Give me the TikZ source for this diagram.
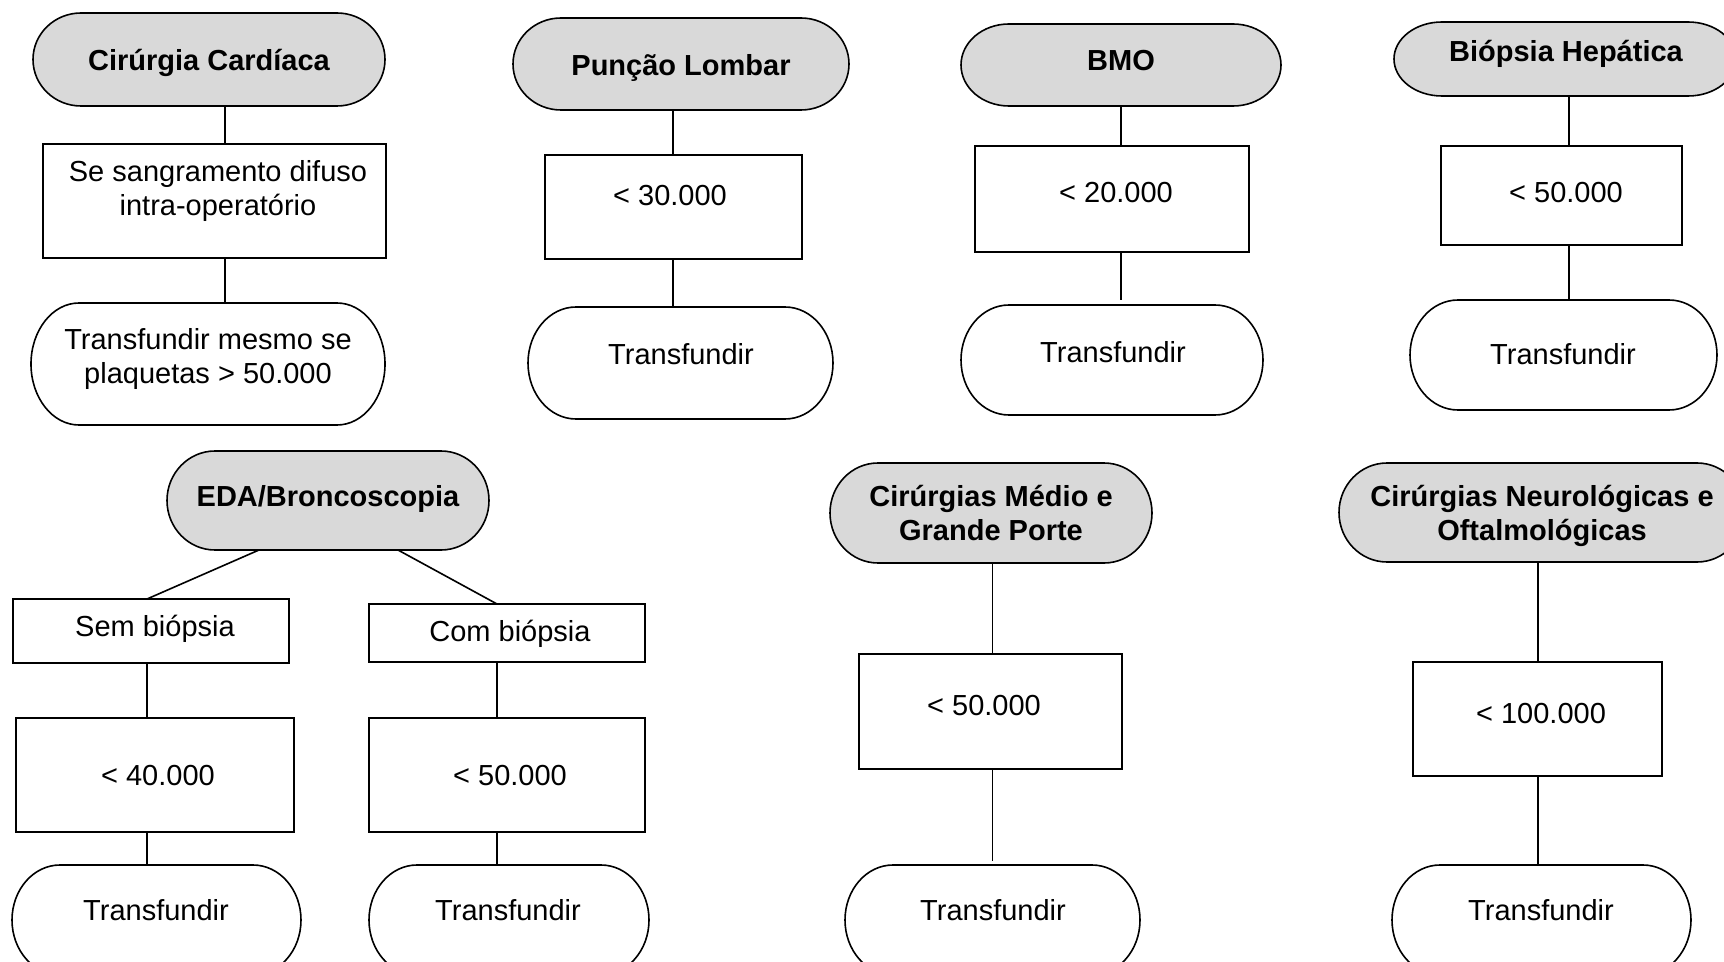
\documentclass[tikz,border=0pt]{standalone}
\usepackage{fontspec}
\setmainfont{Liberation Sans}
\usetikzlibrary{calc}
\definecolor{tgray}{HTML}{D9D9D9}
\newcommand\fs{\fontsize{14.5}{17}\selectfont}
\newcommand\termdraw[2]{%
  \draw[ln, fill=#2] let \p1=(#1.north west), \p2=(#1.south east) in
    (\x1+24pt,\y1) -- (\x2-24pt,\y1)
    arc[start angle=90, end angle=-90, x radius=24pt, y radius={(\y1-\y2)/2}]
    -- (\x1+24pt,\y2)
    arc[start angle=270, end angle=90, x radius=24pt, y radius={(\y1-\y2)/2}]
    -- cycle;}
\begin{document}
\begin{tikzpicture}[x=0.5pt,y=-0.5pt,
  ln/.style={line width=0.8pt, draw=black},
  sz/.style 2 args={minimum width={#1*0.5pt}, minimum height={#2*0.5pt}},
  bx/.style={ln, rectangle, inner sep=0pt, outer sep=0pt},
  tm/.style={rectangle, inner sep=0pt, outer sep=0pt},
  txt/.style={font=\fs, align=center, inner sep=0pt},
  btxt/.style={font=\fs\bfseries, align=center, inner sep=0pt}]
\useasboundingbox (0,0) rectangle (1724,962);
\clip (0,0) rectangle (1724,962);

% x positions of vertical connectors
\coordinate (c1) at (225,0);
\coordinate (c2) at (673,0);
\coordinate (c3) at (1121,0);
\coordinate (c4) at (1569,0);
\coordinate (d1) at (259,0);
\coordinate (d2) at (147,0);
\coordinate (d3) at (398,0);
\coordinate (d4) at (497,0);
\coordinate (c7) at (992.5,0);
\coordinate (c9) at (1538,0);

% ---------- Cirurgia Cardiaca ----------
\node[tm,sz={352}{93}] (T1) at (209,59.5) {};
\termdraw{T1}{tgray}
\node[btxt] (T1t) at (209,62.5) {Cirúrgia Cardíaca};
\node[bx,sz={343}{114}] (B1) at (214.5,201) {};
\node[txt] (B1t) at (218,191) {Se sangramento difuso\\intra-operatório};
\node[tm,sz={354}{122}] (E1) at (208,364) {};
\termdraw{E1}{white}
\node[txt] (E1t) at (208,359) {Transfundir mesmo se\\plaquetas > 50.000};
\draw[ln] (T1.south -| c1) -- (B1.north -| c1);
\draw[ln] (B1.south -| c1) -- (E1.north -| c1);

% ---------- Puncao Lombar ----------
\node[tm,sz={336}{92}] (T2) at (681,64) {};
\termdraw{T2}{tgray}
\node[btxt] (T2t) at (681,68) {Punção Lombar};
\node[bx,sz={257}{104}] (B2) at (673.5,207) {};
\node[txt] (B2t) at (670,196) {< 30.000};
\node[tm,sz={305}{112}] (E2) at (680.5,363) {};
\termdraw{E2}{white}
\node[txt] (E2t) at (681,354) {Transfundir};
\draw[ln] (T2.south -| c2) -- (B2.north -| c2);
\draw[ln] (B2.south -| c2) -- (E2.north -| c2);

% ---------- BMO ----------
\node[tm,sz={320}{82}] (T3) at (1121,65) {};
\termdraw{T3}{tgray}
\node[btxt] (T3t) at (1121,61) {BMO};
\node[bx,sz={274}{106}] (B3) at (1112,199) {};
\node[txt] (B3t) at (1116,193) {< 20.000};
\node[tm,sz={302}{110}] (E3) at (1112,360) {};
\termdraw{E3}{white}
\node[txt] (E3t) at (1113,352) {Transfundir};
\draw[ln] (T3.south -| c3) -- (B3.north -| c3);
\draw[ln, shorten >=2.5pt] (B3.south -| c3) -- (E3.north -| c3);

% ---------- Biopsia Hepatica ----------
\node[tm,sz={342}{74}] (T4) at (1565,59) {};
\termdraw{T4}{tgray}
\node[btxt] (T4t) at (1566,53.5) {Biópsia Hepática};
\node[bx,sz={241}{99}] (B4) at (1561.5,195.5) {};
\node[txt] (B4t) at (1566,193) {< 50.000};
\node[tm,sz={307}{110}] (E4) at (1563.5,355) {};
\termdraw{E4}{white}
\node[txt] (E4t) at (1563,354) {Transfundir};
\draw[ln] (T4.south -| c4) -- (B4.north -| c4);
\draw[ln] (B4.south -| c4) -- (E4.north -| c4);

% ---------- EDA/Broncoscopia ----------
\node[tm,sz={322}{99}] (T5) at (328,500.5) {};
\termdraw{T5}{tgray}
\node[btxt] (T5t) at (328,499) {EDA/Broncoscopia};
\node[bx,sz={276}{64}] (S1) at (151,631) {};
\node[txt] (S1t) at (155,628.5) {Sem biópsia};
\node[bx,sz={276}{58}] (S2) at (507,633) {};
\node[txt] (S2t) at (510,633.5) {Com biópsia};
\node[bx,sz={278}{114}] (F1) at (155,775) {};
\node[txt] (F1t) at (158,776) {< 40.000};
\node[bx,sz={276}{114}] (F2) at (507,775) {};
\node[txt] (F2t) at (510,776) {< 50.000};
\node[tm,sz={289}{110}] (E5) at (156.5,920) {};
\termdraw{E5}{white}
\node[txt] (E5t) at (156,910) {Transfundir};
\node[tm,sz={280}{110}] (E6) at (509,920) {};
\termdraw{E6}{white}
\node[txt] (E6t) at (508,910) {Transfundir};
\draw[ln] (T5.south -| d1) -- (S1.north -| d2);
\draw[ln] (T5.south -| d3) -- (S2.north -| d4);
\draw[ln] (S1.south -| d2) -- (F1.north -| d2);
\draw[ln] (F1.south -| d2) -- (E5.north -| d2);
\draw[ln] (S2.south -| d4) -- (F2.north -| d4);
\draw[ln] (F2.south -| d4) -- (E6.north -| d4);

% ---------- Cirurgias Medio e Grande Porte ----------
\node[tm,sz={322}{100}] (T6) at (991,513) {};
\termdraw{T6}{tgray}
\node[btxt] (T6t) at (991,513) {Cirúrgias Médio e\\Grande Porte};
\node[bx,sz={263}{115}] (M) at (990.5,711.5) {};
\node[txt] (Mt) at (984,706) {< 50.000};
\node[tm,sz={295}{110}] (E7) at (992.5,920) {};
\termdraw{E7}{white}
\node[txt] (E7t) at (993,910) {Transfundir};
\draw[ln] (T6.south -| c7) -- (M.north -| c7);
\draw[ln, shorten >=2pt] (M.south -| c7) -- (E7.north -| c7);

% ---------- Cirurgias Neurologicas e Oftalmologicas ----------
\node[tm,sz={406}{99}] (T7) at (1542,512.5) {};
\termdraw{T7}{tgray}
\node[btxt] (T7t) at (1542,516) {Cirúrgias Neurológicas e\\Oftalmológicas};
\node[bx,sz={249}{114}] (N) at (1537.5,719) {};
\node[txt] (Nt) at (1541,714) {< 100.000};
\node[tm,sz={299}{110}] (E8) at (1541.5,920) {};
\termdraw{E8}{white}
\node[txt] (E8t) at (1541,910) {Transfundir};
\draw[ln] (T7.south -| c9) -- (N.north -| c9);
\draw[ln] (N.south -| c9) -- (E8.north -| c9);
\end{tikzpicture}
\end{document}
